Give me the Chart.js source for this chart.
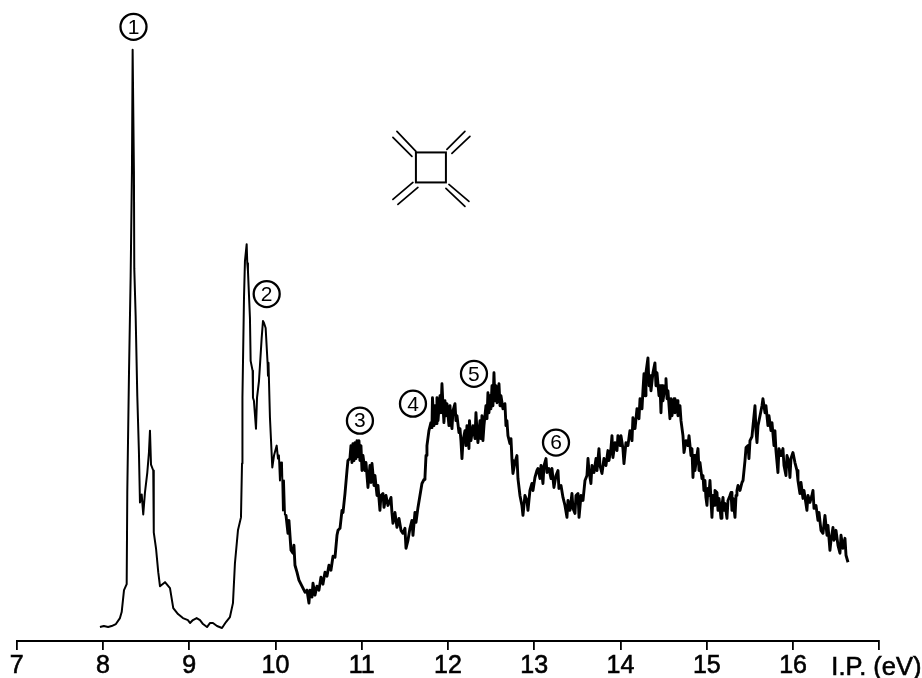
<!DOCTYPE html>
<html><head><meta charset="utf-8">
<style>html,body{margin:0;padding:0;background:#fff}#w{width:922px;height:678px}</style>
<script src="https://cdn.jsdelivr.net/npm/chart.js@4"></script></head>
<body><div id="w"><canvas id="c" width="922" height="678"></canvas></div>
<script>
const tickValues=[7,8,9,10,11,12,13,14,15,16,17];
const tickLabels=['7','8','9','10','11','12','13','14','15','16',''];
const axisTitle='I.P. (eV)';
const energy=[
7.965,8.01,8.06,8.10,8.15,8.197,8.217,8.244,8.275,8.282,8.302,8.321,8.336,8.344,8.359,8.363,8.379,8.398,8.417,8.429,8.449,8.467,8.487,8.514,8.533,8.545,8.557,8.583,8.589,8.615,8.641,8.661,8.719,8.777,8.815,8.87,8.927,8.985,9.009,9.043,9.086,9.125,9.16,9.206,9.24,9.275,9.322,9.38,9.426,9.472,9.507,9.53,9.565,9.6,9.612,9.617,9.635,9.646,9.666,9.673,9.681,9.704,9.712,9.735,9.739,9.75,9.774,9.786,9.809,9.84,9.855,9.867,9.886,9.909,9.913,9.919,9.936,9.963,9.983,10.014,10.029,10.04,10.052,10.064,10.075,10.087,10.098,10.11,10.122,10.145,10.156,10.18,10.203,10.214,10.226,10.249,10.272,10.307,10.342,10.365,10.388,10.4,10.423,10.435,10.458,10.481,10.504,10.527,10.55,10.574,10.597,10.62,10.643,10.667,10.69,10.713,10.725,10.748,10.771,10.783,10.806,10.829,10.84,10.863,10.875,10.887,10.898,10.91,10.922,10.933,10.945,10.956,10.968,10.979,10.991,11.003,11.014,11.037,11.049,11.072,11.095,11.107,11.119,11.142,11.153,11.177,11.188,11.211,11.223,11.246,11.258,11.281,11.304,11.339,11.35,11.362,11.385,11.408,11.432,11.455,11.478,11.501,11.513,11.536,11.559,11.582,11.594,11.617,11.629,11.652,11.675,11.698,11.722,11.733,11.745,11.756,11.779,11.802,11.814,11.82,11.837,11.849,11.861,11.872,11.884,11.907,11.918,11.93,11.942,11.953,11.965,11.976,11.988,12.011,12.023,12.034,12.046,12.058,12.081,12.092,12.104,12.127,12.139,12.15,12.162,12.174,12.197,12.208,12.22,12.243,12.249,12.266,12.29,12.313,12.324,12.336,12.347,12.371,12.382,12.394,12.405,12.417,12.44,12.452,12.463,12.475,12.486,12.498,12.51,12.521,12.533,12.544,12.556,12.568,12.591,12.603,12.614,12.637,12.66,12.672,12.683,12.695,12.718,12.73,12.742,12.753,12.776,12.799,12.811,12.834,12.857,12.869,12.892,12.915,12.927,12.95,12.973,12.985,13.008,13.031,13.043,13.066,13.078,13.101,13.113,13.136,13.147,13.17,13.194,13.205,13.228,13.252,13.275,13.286,13.31,13.333,13.356,13.379,13.391,13.414,13.437,13.449,13.472,13.484,13.507,13.519,13.542,13.565,13.588,13.611,13.623,13.634,13.657,13.669,13.692,13.716,13.727,13.75,13.762,13.785,13.808,13.831,13.854,13.866,13.889,13.901,13.912,13.936,13.959,13.97,13.994,14.005,14.028,14.04,14.063,14.086,14.109,14.133,14.144,14.168,14.191,14.214,14.226,14.249,14.26,14.272,14.284,14.295,14.318,14.33,14.342,14.353,14.376,14.399,14.411,14.423,14.446,14.458,14.469,14.481,14.492,14.516,14.527,14.539,14.55,14.573,14.585,14.597,14.62,14.631,14.655,14.666,14.689,14.701,14.724,14.736,14.759,14.782,14.794,14.817,14.828,14.84,14.852,14.863,14.886,14.898,14.91,14.921,14.944,14.956,14.967,14.979,14.99,15.002,15.014,15.025,15.037,15.049,15.06,15.072,15.084,15.095,15.118,15.13,15.142,15.165,15.176,15.188,15.199,15.211,15.234,15.246,15.269,15.281,15.292,15.304,15.327,15.339,15.35,15.362,15.385,15.408,15.42,15.443,15.455,15.478,15.489,15.501,15.524,15.536,15.559,15.57,15.582,15.594,15.617,15.64,15.651,15.675,15.686,15.709,15.721,15.744,15.756,15.779,15.79,15.802,15.825,15.837,15.86,15.883,15.895,15.918,15.93,15.953,15.964,15.976,15.999,16.022,16.046,16.057,16.08,16.092,16.115,16.127,16.161,16.173,16.196,16.219,16.231,16.243,16.266,16.289,16.301,16.324,16.347,16.37,16.394,16.405,16.428,16.44,16.463,16.475,16.498,16.521,16.544,16.556,16.579,16.602,16.614,16.637];
const intensity=[
14,15,14,15,17,23,29,51,57,149,270,366,471,593,471,374,326,246,189,139,147,127,149,169,189,211,177,171,109,93,69,55,59,53,33,27,23,21,18,21,23,21,17,14,18,18,15,13,19,24,38,78,111,124,178,244,344,381,398,379,371,324,281,271,244,241,213,244,261,304,321,319,314,278,266,279,224,174,186,196,183,186,161,179,178,131,161,126,126,108,121,91,88,96,76,69,61,55,49,51,38,51,44,58,46,55,51,64,57,69,65,76,71,85,84,106,111,113,131,129,148,171,181,183,196,179,198,181,199,183,201,185,201,181,196,171,186,171,179,154,176,159,178,156,166,146,156,131,146,148,134,146,136,144,129,118,129,114,123,111,108,113,93,101,113,121,106,129,119,134,146,158,162,164,186,196,211,219,214,244,216,236,218,244,221,246,229,258,236,219,241,226,238,216,236,221,213,231,238,221,226,209,213,201,183,201,211,196,216,193,221,201,216,203,229,211,199,221,203,226,201,216,236,223,249,229,246,233,256,236,269,241,256,239,258,236,246,233,238,216,221,206,198,203,181,168,179,186,163,146,136,126,146,141,131,151,158,151,164,171,173,163,176,158,176,183,169,173,163,173,154,166,171,153,156,144,136,124,141,131,148,133,128,146,148,124,146,141,161,166,183,171,158,176,169,183,171,193,176,168,183,176,191,181,193,206,184,199,191,206,196,206,193,178,199,196,211,201,224,213,233,223,243,233,251,268,246,269,284,256,266,251,269,279,256,269,246,256,229,256,241,256,263,243,251,223,243,226,243,229,241,226,236,221,206,189,201,196,206,186,193,164,186,171,186,193,171,179,163,166,151,161,144,136,153,146,161,141,124,146,136,151,149,131,143,123,136,144,131,138,123,141,146,149,131,143,124,146,151,156,151,159,161,181,194,196,183,201,205,216,236,211,199,216,226,236,243,229,236,216,226,211,219,196,211,191,169,193,186,193,176,166,186,179,164,183,189,179,171,161,148,159,143,151,131,146,139,146,151,133,136,121,129,111,108,126,106,116,91,101,114,101,111,96,88,106,93,103,86,79];
const markerEnergy=[8.354,9.898,10.979,11.594,12.301,13.252];
const markerHeight=[616,348,221,238,268,199];
const markerLabels=['1','2','3','4','5','6'];
const moleculeEnergy=[11.802];
const moleculeHeight=[475];
const noisyFrom=10.1;

const FONT='"Liberation Sans",sans-serif';
const overlay={id:'overlay',afterDatasetsDraw(ch){
  const g=ch.ctx,xs=ch.scales.x,ys=ch.scales.y;
  g.save();g.fillStyle='#000';g.strokeStyle='#000';
  const pts=ch.getDatasetMeta(1).data;
  g.font='21px '+FONT;g.textAlign='center';g.textBaseline='middle';
  pts.forEach((p,i)=>g.fillText(markerLabels[i],p.x,p.y+1));
  g.font='25.5px '+FONT;g.textAlign='left';g.textBaseline='alphabetic';
  g.lineWidth=0.6;
  g.fillText(axisTitle,xs.right-48,675);
  g.strokeText(axisTitle,xs.right-48,675);
  const cx=xs.getPixelForValue(moleculeEnergy[0]),cy=ys.getPixelForValue(moleculeHeight[0]);
  g.lineWidth=2;g.strokeRect(cx-15,cy-15,30,30);
  g.lineWidth=1.7;g.lineCap='round';
  for(const[a,b,c,d]of[[-34,-36,-15,-16],[-38,-30,-19,-11],[34,-36,16,-18],[39,-31,21,-14],[-38,32,-18,15],[-33,37,-13,20],[15,21,34,39],[18,17,38,34]]){
    g.beginPath();g.moveTo(cx+a,cy+b);g.lineTo(cx+c,cy+d);g.stroke();}
  g.restore();
}};
new Chart(document.getElementById('c'),{
  type:'scatter',
  data:{datasets:[
    {data:energy.map((e,i)=>({x:e,y:intensity[i]})),showLine:true,borderColor:'#000',borderWidth:2,pointRadius:0,tension:0,borderJoinStyle:'round',
     segment:{borderWidth:c=>c.p0.parsed.x>=noisyFrom?2.9:2}},
    {data:markerEnergy.map((e,i)=>({x:e,y:markerHeight[i]})),showLine:false,pointRadius:13,pointBackgroundColor:'#fff',pointBorderColor:'#000',pointBorderWidth:2.3,clip:false}
  ]},
  options:{
    responsive:false,animation:false,events:[],
    layout:{padding:{left:16.7,right:42.7,top:0,bottom:0}},
    plugins:{legend:{display:false},tooltip:{enabled:false},title:{display:false}},
    scales:{
      x:{type:'linear',min:7,max:17,
        afterBuildTicks(s){s.ticks=tickValues.map(v=>({value:v}));},
        afterFit(s){s.height=37;},
        grid:{drawOnChartArea:false,drawTicks:true,tickLength:9,color:'#000',lineWidth:1.8},
        border:{display:true,color:'#000',width:2},
        ticks:{autoSkip:false,maxRotation:0,minRotation:0,padding:1,color:'#000',font:{family:FONT,size:25},textStrokeColor:'#000',textStrokeWidth:0.6,
          callback(v){const i=tickValues.indexOf(v);return i<0?'':tickLabels[i];}}
      },
      y:{display:false,min:0,max:627.6}
    }
  },
  plugins:[overlay]
});
</script></body></html>
